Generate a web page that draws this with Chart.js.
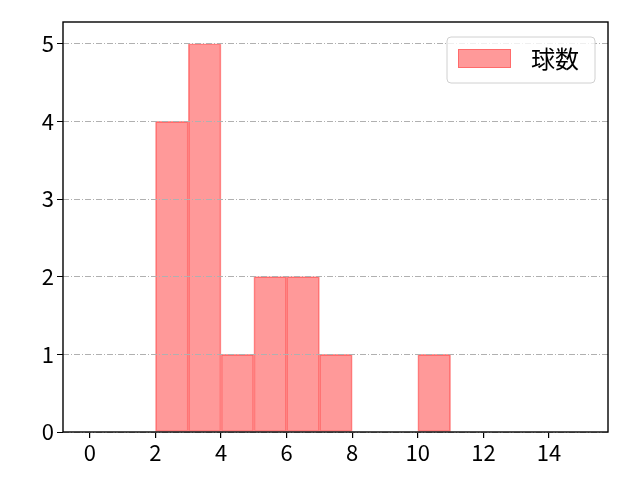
<!DOCTYPE html>
<html>
<head>
<meta charset="utf-8">
<script src="https://cdn.jsdelivr.net/npm/chart.js@4"></script>
<style>
html,body{margin:0;padding:0;background:#fff;}
#wrap{width:640px;height:480px;}
</style>
</head>
<body>
<div id="wrap"><canvas id="c" width="640" height="480"></canvas></div>
<script>
const binStarts = [2, 3, 4, 5, 6, 7, 10];
const counts = [4, 5, 1, 2, 2, 1, 1];
const seriesLabel = '球数';
const xTicks = [0, 2, 4, 6, 8, 10, 12, 14];
const yTicks = [0, 1, 2, 3, 4, 5];

const FONT = '"Noto Sans CJK JP", "Noto Sans", sans-serif';
const data = binStarts.map((s, i) => ({x: s + 0.5, y: counts[i]}));

const framePlugin = {
  id: 'frame',
  afterDraw(chart) {
    const {ctx, chartArea: a} = chart;
    ctx.save();
    ctx.setLineDash([]);
    ctx.strokeStyle = '#000';
    ctx.lineWidth = 1.4;
    ctx.strokeRect(a.left, a.top, a.right - a.left, a.bottom - a.top);
    // legend
    const bx = 447, by = 37, bw = 148, bh = 46, r = 4;
    ctx.beginPath();
    ctx.moveTo(bx + r, by);
    ctx.arcTo(bx + bw, by, bx + bw, by + bh, r);
    ctx.arcTo(bx + bw, by + bh, bx, by + bh, r);
    ctx.arcTo(bx, by + bh, bx, by, r);
    ctx.arcTo(bx, by, bx + bw, by, r);
    ctx.closePath();
    ctx.fillStyle = 'rgba(255,255,255,0.8)';
    ctx.fill();
    ctx.strokeStyle = '#d0d0d0';
    ctx.lineWidth = 1;
    ctx.stroke();
    ctx.fillStyle = 'rgba(255,0,0,0.4)';
    ctx.fillRect(458, 49, 53, 19);
    ctx.strokeStyle = 'rgba(255,0,0,0.3)';
    ctx.strokeRect(458.5, 49.5, 52, 18);
    ctx.fillStyle = '#000';
    ctx.font = '24px ' + FONT;
    ctx.textBaseline = 'middle';
    ctx.fillText(seriesLabel, 531, 59);
    ctx.restore();
  }
};

new Chart(document.getElementById('c'), {
  type: 'bar',
  data: {
    datasets: [{
      label: seriesLabel,
      data: data,
      backgroundColor: 'rgba(255,0,0,0.4)',
      borderColor: 'rgba(255,0,0,0.4)',
      borderWidth: 1,
      borderSkipped: false,
      barPercentage: 1,
      categoryPercentage: 1
    }]
  },
  options: {
    responsive: false,
    animation: false,
    devicePixelRatio: 1,
    layout: {padding: {top: 22, right: 32, left: 0, bottom: 0}},
    plugins: {legend: {display: false}, tooltip: {enabled: false}},
    scales: {
      x: {
        type: 'linear',
        offset: false,
        min: -0.82,
        max: 15.8,
        afterBuildTicks(s) { s.ticks = xTicks.map(v => ({value: v})); },
        afterFit(s) { s.height = 48; },
        grid: {display: true, offset: false, drawOnChartArea: false, drawTicks: true, tickLength: 6, color: '#000', lineWidth: 1.2},
        border: {display: false},
        ticks: {color: '#000', font: {family: FONT, size: 22}, padding: 1, maxRotation: 0}
      },
      y: {
        min: 0,
        max: 5.28,
        afterBuildTicks(s) { s.ticks = yTicks.map(v => ({value: v})); },
        afterFit(s) { s.width = 63; },
        grid: {
          display: true,
          drawOnChartArea: true,
          drawTicks: true,
          tickLength: 6,
          z: 1,
          color: '#b0b0b0',
          tickColor: '#000',
          lineWidth: 1
        },
        border: {display: false, dash: [6, 2, 1, 2]},
        ticks: {color: '#000', font: {family: FONT, size: 22}, padding: 3}
      }
    }
  },
  plugins: [framePlugin]
});
</script>
</body>
</html>
